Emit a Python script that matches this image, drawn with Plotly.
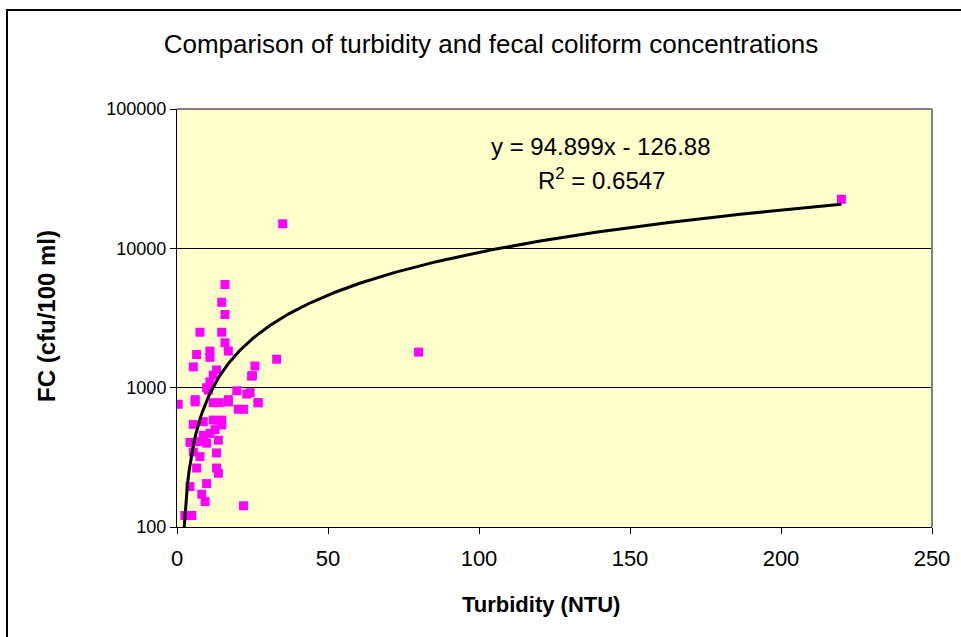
import numpy as np
import plotly.graph_objects as go

# Turbidity (NTU) and fecal coliform (cfu/100 ml) samples
turbidity = [
    220, 35, 80, 33, 25.8, 25, 24.2, 26.8,
    15.9, 14.8, 15.9, 7.6, 14.8, 15.9, 17, 6.5, 10.9, 10.9, 5.4,
    24.7, 13.1, 12, 10.9, 9.8, 19.8, 23.1, 6, 17,
    10.4, 0.4, 6, 12, 14, 17, 20.3, 22, 26.9,
    5.4, 8.7, 12, 14.8, 14.8, 12.6, 8.7, 10.9, 13.7, 4.3, 7.1, 9.8,
    5.4, 13.1, 7.6, 6.5, 13.1, 13.7, 9.8, 4.3, 8.2, 9.3, 22, 2.6, 4.9,
]
fecal_coliform = [
    22500, 15000, 1800, 1600, 1430, 1220, 920, 780,
    5500, 4100, 3350, 2500, 2500, 2100, 1830, 1730, 1830, 1650, 1410,
    1210, 1340, 1230, 1100, 1000, 950, 900, 820, 820,
    960, 760, 790, 780, 780, 790, 700, 700, 780,
    545, 570, 585, 585, 540, 500, 455, 470, 420, 405, 410, 400,
    345, 340, 320, 265, 265, 243, 205, 195, 172, 152, 142, 121, 121,
]

# Linear trendline reported on the chart
slope = 94.899
intercept = -126.88
r_squared = 0.6547

x_start = (100 - intercept) / slope
trend_x = np.linspace(x_start, max(turbidity), 400)
trend_y = slope * trend_x + intercept

x_ticks = [0, 50, 100, 150, 200, 250]
y_ticks = [100, 1000, 10000, 100000]

W, H = 961, 637
L, R, T, B = 177, 932, 109, 527  # plot area in pixels


def px(x):
    return (x - L) / (R - L)


def py(y):
    return (B - y) / (B - T)


fig = go.Figure()

fig.add_trace(go.Scatter(
    x=turbidity, y=fecal_coliform, mode="markers",
    marker=dict(symbol="square", size=9, color="#FF00FF",
                line=dict(width=0)),
    hoverinfo="x+y", showlegend=False,
))

fig.add_trace(go.Scatter(
    x=trend_x, y=trend_y, mode="lines",
    line=dict(color="black", width=3),
    hoverinfo="skip", showlegend=False,
))

font_family = "Liberation Sans, Arial, sans-serif"

fig.update_layout(
    width=W, height=H,
    margin=dict(l=L, r=W - R, t=T, b=H - B),
    paper_bgcolor="white",
    plot_bgcolor="#FFFFCC",
    font=dict(family=font_family, color="black", size=17),
    title=dict(
        text="Comparison of turbidity and fecal coliform concentrations",
        x=491 / W, xref="container", xanchor="center",
        y=1 - 44 / H, yref="container", yanchor="middle",
        font=dict(size=26, family=font_family, color="black"),
    ),
    xaxis=dict(
        range=[0, 250], tickvals=x_ticks, ticktext=[str(v) for v in x_ticks],
        showgrid=False, zeroline=False,
        showline=True, linecolor="black", linewidth=1,
        ticks="outside", ticklen=6, tickcolor="black",
        tickfont=dict(size=22), ticklabelstandoff=6,
    ),
    yaxis=dict(
        type="log", range=[2, 5], tickvals=y_ticks,
        ticktext=[str(v) for v in y_ticks],
        showgrid=True, gridcolor="black", gridwidth=1,
        zeroline=False,
        showline=True, linecolor="black", linewidth=1,
        ticks="outside", ticklen=6, tickcolor="black",
        tickfont=dict(size=18),
    ),
    shapes=[
        # plot-area border on top and right
        dict(type="line", xref="paper", yref="paper", x0=0, x1=1, y0=1, y1=1,
             line=dict(color="#808080", width=2)),
        dict(type="line", xref="paper", yref="paper", x0=1, x1=1, y0=0, y1=1,
             line=dict(color="#808080", width=2)),
        # chart frame
        dict(type="rect", xref="paper", yref="paper",
             x0=px(7), x1=px(975), y0=py(650), y1=py(10),
             line=dict(color="black", width=2), fillcolor="rgba(0,0,0,0)"),
    ],
    annotations=[
        dict(text="<b>Turbidity (NTU)</b>", xref="paper", yref="paper",
             x=px(541), y=py(604), xanchor="center", yanchor="middle",
             showarrow=False, font=dict(size=22)),
        dict(text="<b>FC (cfu/100 ml)</b>", xref="paper", yref="paper",
             x=px(46), y=py(316), xanchor="center", yanchor="middle",
             textangle=-90, showarrow=False, font=dict(size=24)),
        dict(text=f"y = {slope}x - {abs(intercept)}", xref="paper", yref="paper",
             x=px(601), y=py(146), xanchor="center", yanchor="middle",
             showarrow=False, font=dict(size=24)),
        dict(text=f"R<sup>2</sup> = {r_squared}", xref="paper", yref="paper",
             x=px(601), y=py(179), xanchor="center", yanchor="middle",
             showarrow=False, font=dict(size=24)),
    ],
)

fig.write_html("out.html")
